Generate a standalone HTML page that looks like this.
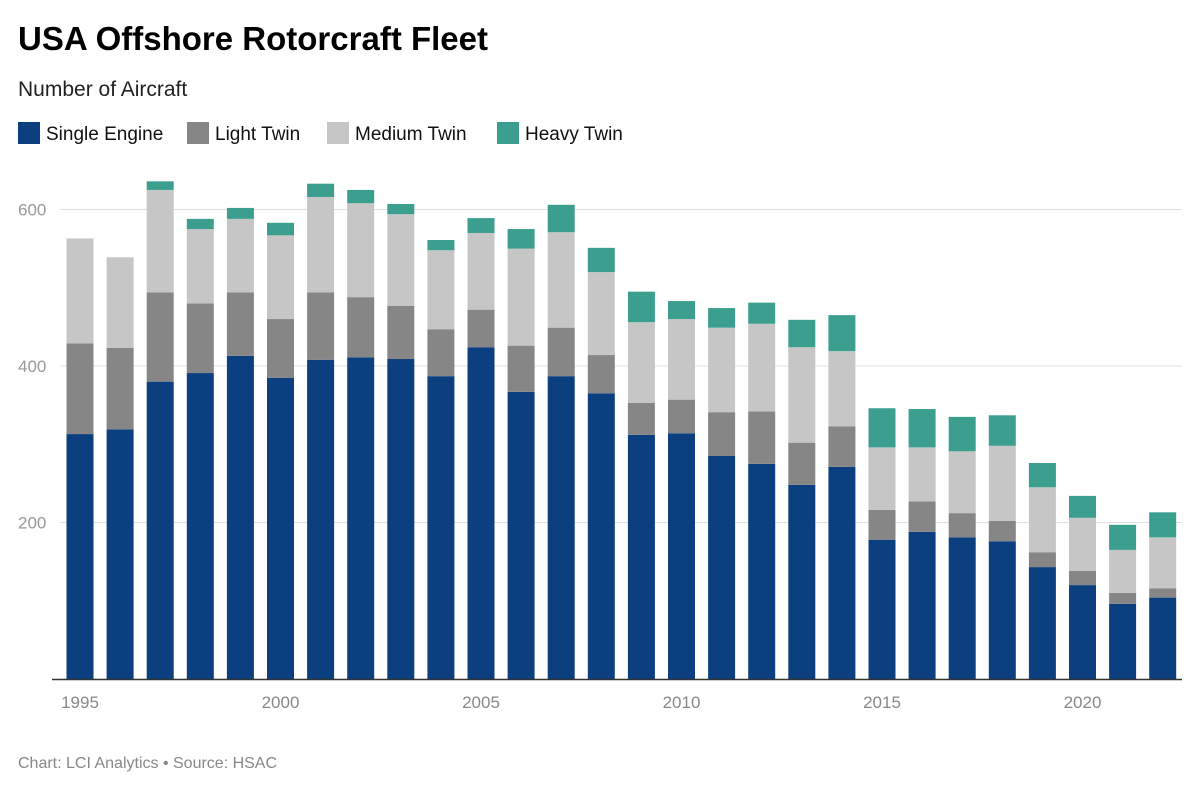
<!DOCTYPE html>
<html><head><meta charset="utf-8"><style>
body{margin:0;background:#fff;font-family:"Liberation Sans",sans-serif;}
</style></head><body>
<svg width="1200" height="791" xmlns="http://www.w3.org/2000/svg">
<text x="18" y="50" font-size="33" font-weight="bold" fill="#000">USA Offshore Rotorcraft Fleet</text>
<text x="18" y="96" font-size="21" fill="#222">Number of Aircraft</text>
<g id="legend"></g>
<g id="grid"></g>
<g id="bars"></g>
<g id="xaxis"></g>
<text x="18" y="768" font-size="16" fill="#888">Chart: LCI Analytics • Source: HSAC</text>
</svg>
<script>
const years=[1995,1996,1997,1998,1999,2000,2001,2002,2003,2004,2005,2006,2007,2008,2009,2010,2011,2012,2013,2014,2015,2016,2017,2018,2019,2020,2021,2022];
const singleEngine=[313,319,380,391,413,385,408,411,409,387,424,367,387,365,312,314,285,275,248,271,178,188,181,176,143,120,96,104];
const lightTwin=[116,104,114,89,81,75,86,77,68,60,48,59,62,49,41,43,56,67,54,52,38,39,31,26,19,18,14,12];
const mediumTwin=[134,116,131,95,94,107,122,120,117,101,98,124,122,106,103,103,108,112,122,96,80,69,79,96,83,68,55,65];
const heavyTwin=[0,0,11,13,14,16,17,17,13,13,19,25,35,31,39,23,25,27,35,46,50,49,44,39,31,28,32,32];
const yTicks=[200,400,600];
const xTickYears=[1995,2000,2005,2010,2015,2020];
const seriesNames=["Single Engine","Light Twin","Medium Twin","Heavy Twin"];
const NS="http://www.w3.org/2000/svg";
const colors=["#0b3f80","#868686","#c6c6c6","#3b9e8e"];
const y0=679,k=0.7825;
const Y=v=>y0-v*k;
const X=yr=>80+(yr-1995)*40.1;
function mk(t,a,p){const e=document.createElementNS(NS,t);for(const q in a)e.setAttribute(q,a[q]);p.appendChild(e);return e;}
const grid=document.getElementById('grid');
yTicks.forEach(v=>{
 const l=mk('line',{x1:60,x2:1182,y1:Y(v),y2:Y(v),stroke:'#e0e0e0','stroke-width':1},grid);
 
 
 const t=mk('text',{x:18,y:Y(v)+6,'font-size':17,fill:'#999'},grid);t.textContent=v;
 
 
});
const bars=document.getElementById('bars');
const series=[singleEngine,lightTwin,mediumTwin,heavyTwin];
years.forEach((yr,i)=>{
 let base=0;
 series.forEach((s,j)=>{
  const v=s[i];if(v<=0)return;
  const r=mk('rect',{x:X(yr)-13.5,width:27,y:Y(base+v),height:v*k,fill:colors[j]},bars);
  
  
  base+=v;
 });
});
const xa=document.getElementById('xaxis');
const ax=mk('line',{x1:52,x2:1182,y1:679.5,y2:679.5,stroke:'#333','stroke-width':1.5},xa);


xTickYears.forEach(yr=>{
 const t=mk('text',{x:X(yr),y:708,'font-size':17,fill:'#888','text-anchor':'middle'},xa);t.textContent=yr;
 
 
});
const lg=document.getElementById('legend');
const lx=[18,187,327,497];
seriesNames.forEach((n,j)=>{
 const r=mk('rect',{x:lx[j],y:122,width:22,height:22,fill:colors[j]},lg);
 
 
 const t=mk('text',{x:lx[j]+28,y:140,'font-size':19,fill:'#111'},lg);t.textContent=n;
 
 
});
</script>
</body></html>
